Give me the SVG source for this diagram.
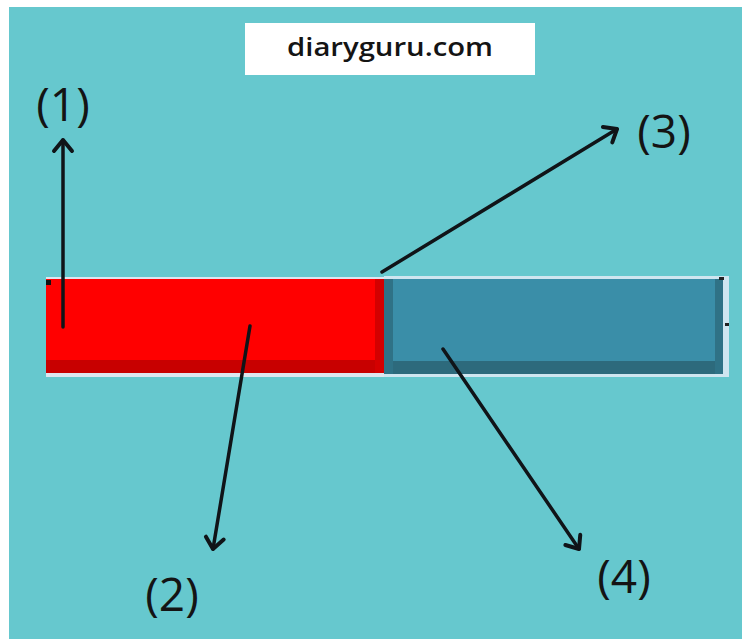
<svg xmlns="http://www.w3.org/2000/svg" width="742" height="639" viewBox="0 0 742 639">
<style>
.lbl{font-family:"Open Sans","Noto Sans","DejaVu Sans",sans-serif;font-size:46px;fill:#141414;text-anchor:middle}
.ttl{font-family:"Open Sans","Noto Sans","DejaVu Sans",sans-serif;font-size:26px;font-weight:600;fill:#141414;text-anchor:middle}
.con{stroke:#101418;stroke-width:3.5;fill:none;stroke-linecap:round;marker-end:url(#ah)}
</style>
<defs>
<marker id="ah" markerUnits="userSpaceOnUse" markerWidth="30" markerHeight="30" refX="15" refY="15" orient="auto" viewBox="0 0 30 30">
<path d="M4 6 L15 15 L4 24" fill="none" stroke="#101418" stroke-width="4" stroke-linecap="round" stroke-linejoin="round"/>
</marker>
</defs>
<rect x="0" y="0" width="742" height="639" fill="#ffffff"/>
<rect x="9" y="7" width="733" height="632" fill="#66c8ce"/>
<g id="title">
<rect x="245" y="23" width="290" height="52" fill="#ffffff"/>
<text class="ttl" x="390" y="56" textLength="206" lengthAdjust="spacingAndGlyphs">diaryguru.com</text>
</g>
<g id="bar-red">
<rect x="46" y="277" width="338" height="100" fill="#dde6f0"/>
<rect x="46" y="279" width="338" height="94" fill="#ff0000"/>
<rect x="46" y="360" width="338" height="13" fill="#c80000"/>
<rect x="375" y="279" width="9" height="94" fill="#d40000"/>
<rect x="46" y="280" width="5" height="5" fill="#111111"/>
</g>
<g id="bar-blue">
<rect x="384" y="276" width="345" height="101" fill="#cfe6f0"/>
<rect x="384" y="279" width="339" height="95" fill="#3a8ea8"/>
<rect x="384" y="361" width="339" height="13" fill="#2d6a7c"/>
<rect x="384" y="279" width="9" height="95" fill="#2f7286"/>
<rect x="715" y="279" width="8" height="95" fill="#2f7286"/>
<rect x="719" y="277" width="5" height="3" fill="#222222"/>
<rect x="725" y="323" width="4" height="3" fill="#222222"/>
</g>
<g id="labels">
<text id="label-1" class="lbl" x="63" y="121">(1)</text>
<text id="label-2" class="lbl" x="172" y="611">(2)</text>
<text id="label-3" class="lbl" x="664" y="148">(3)</text>
<text id="label-4" class="lbl" x="624" y="593">(4)</text>
</g>
<g id="connectors">
<line class="con" x1="63" y1="327" x2="63" y2="140"/>
<line class="con" x1="250" y1="326" x2="213" y2="549"/>
<line class="con" x1="382" y1="272" x2="617" y2="129"/>
<line class="con" x1="443" y1="349" x2="579" y2="549"/>
</g>
</svg>
